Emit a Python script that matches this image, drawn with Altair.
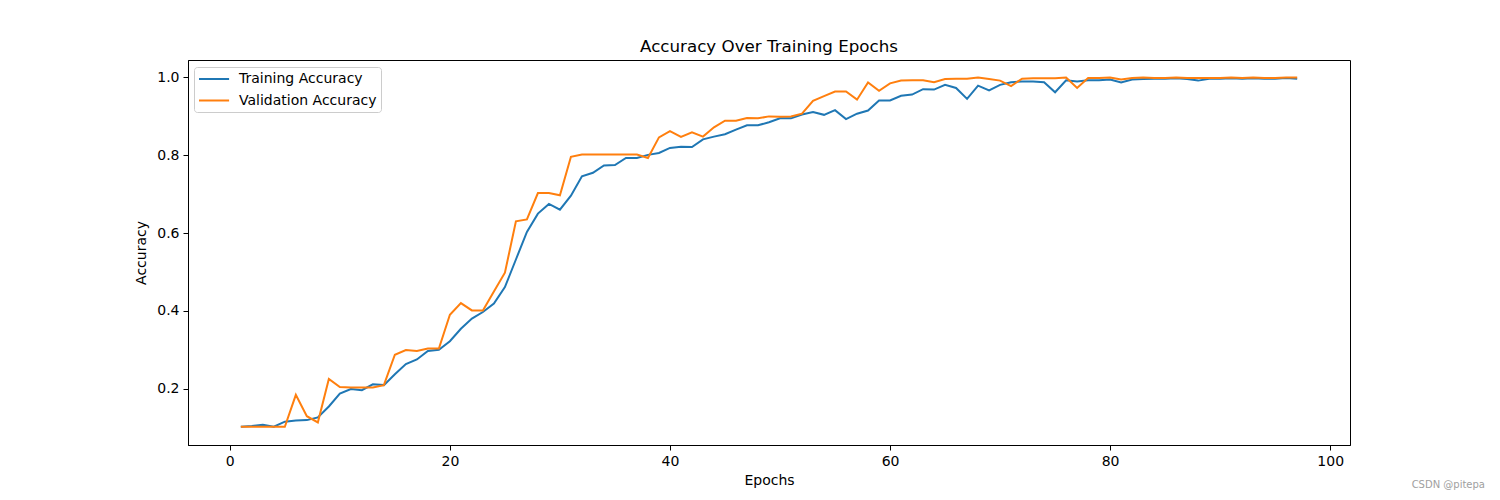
import altair as alt
import pandas as pd

epochs = list(range(1, 98))

train_acc = [
    0.102, 0.104, 0.107, 0.102, 0.115, 0.118, 0.119, 0.126, 0.154, 0.187,
    0.199, 0.196, 0.211, 0.209, 0.237, 0.263, 0.275, 0.297, 0.300, 0.322,
    0.354, 0.380, 0.397, 0.419, 0.461, 0.532, 0.603, 0.650, 0.675, 0.660,
    0.696, 0.746, 0.755, 0.774, 0.775, 0.793, 0.793, 0.801, 0.806, 0.819,
    0.822, 0.821, 0.841, 0.848, 0.854, 0.866, 0.877, 0.877, 0.885, 0.895,
    0.895, 0.905, 0.911, 0.904, 0.916, 0.893, 0.907, 0.915, 0.941, 0.941,
    0.953, 0.956, 0.970, 0.969, 0.981, 0.973, 0.945, 0.979, 0.967, 0.981,
    0.988, 0.990, 0.990, 0.988, 0.962, 0.993, 0.990, 0.993, 0.993, 0.995,
    0.987, 0.995, 0.996, 0.997, 0.997, 0.998, 0.996, 0.992, 0.997, 0.997,
    0.998, 0.997, 0.998, 0.997, 0.997, 0.999, 0.997,
]

val_acc = [
    0.102, 0.102, 0.102, 0.102, 0.102, 0.184, 0.129, 0.113, 0.225, 0.204,
    0.203, 0.203, 0.203, 0.209, 0.287, 0.299, 0.297, 0.303, 0.303, 0.390,
    0.420, 0.401, 0.401, 0.450, 0.498, 0.630, 0.635, 0.703, 0.703, 0.697,
    0.796, 0.802, 0.802, 0.802, 0.802, 0.802, 0.802, 0.793, 0.846, 0.862,
    0.847, 0.859, 0.848, 0.872, 0.889, 0.889, 0.896, 0.895, 0.900, 0.899,
    0.900, 0.907, 0.940, 0.952, 0.964, 0.964, 0.943, 0.987, 0.966, 0.985,
    0.992, 0.993, 0.993, 0.988, 0.996, 0.997, 0.997, 1.000, 0.996, 0.992,
    0.978, 0.997, 0.998, 0.998, 0.998, 1.000, 0.973, 0.999, 0.999, 1.000,
    0.995, 0.999, 1.000, 0.999, 0.999, 1.000, 0.999, 0.999, 0.999, 0.999,
    1.000, 0.999, 1.000, 0.999, 0.999, 1.000, 1.000,
]

series_names = ["Training Accuracy", "Validation Accuracy"]
series_colors = ["#1f77b4", "#ff7f0e"]

x_ticks = [0, 20, 40, 60, 80, 100]
y_ticks = [0.2, 0.4, 0.6, 0.8, 1.0]

df = pd.concat([
    pd.DataFrame({"Epoch": epochs, "Accuracy": train_acc, "Series": series_names[0], "order": 0}),
    pd.DataFrame({"Epoch": epochs, "Accuracy": val_acc, "Series": series_names[1], "order": 1}),
])

FONT = "DejaVu Sans"

lines = alt.Chart(df).mark_line(strokeWidth=2, clip=True).encode(
    x=alt.X("Epoch:Q",
            scale=alt.Scale(domain=[-3.8, 101.8], nice=False, zero=False),
            axis=alt.Axis(title="Epochs", values=x_ticks, format="d", grid=False,
                          tickSize=5, labelPadding=4, titlePadding=5)),
    y=alt.Y("Accuracy:Q",
            scale=alt.Scale(domain=[0.055, 1.045], nice=False, zero=False),
            axis=alt.Axis(title="Accuracy", values=y_ticks, format=".1f", grid=False,
                          tickSize=5, labelPadding=4, titlePadding=8)),
    color=alt.Color("Series:N",
                    scale=alt.Scale(domain=series_names, range=series_colors),
                    legend=alt.Legend(title=None, orient="none", legendX=6, legendY=7,
                                      symbolType="M-1,0H3.3", symbolSize=196,
                                      symbolStrokeWidth=2, labelFontSize=14,
                                      labelFont=FONT, labelColor="black",
                                      labelOffset=25, rowPadding=6.5,
                                      padding=4, strokeColor="#cccccc",
                                      fillColor="white", cornerRadius=3)),
    order="order:Q",
    detail="Series:N",
)

watermark_df = pd.DataFrame({"label": ["CSDN @pitepa"]})
watermark = alt.Chart(watermark_df).mark_text(
    align="right", baseline="middle", fontSize=10, font=FONT, color="#a0a0a0"
).encode(
    x=alt.value(1297),
    y=alt.value(425),
    text="label:N",
)

chart = alt.layer(lines, watermark).properties(
    width=1162,
    height=385,
    background="white",
    title=alt.TitleParams("Accuracy Over Training Epochs", fontSize=16.7, font=FONT,
                          fontWeight="normal", color="black", offset=4, anchor="middle"),
    autosize=alt.AutoSizeParams(type="none"),
    padding={"left": 180, "top": 52, "right": 142, "bottom": 47},
).configure_view(
    stroke="black", strokeWidth=1
).configure_axis(
    labelFont=FONT, titleFont=FONT, labelFontSize=14, titleFontSize=14,
    labelColor="black", titleColor="black", domainColor="black", tickColor="black",
    titleFontWeight="normal",
)

chart.save("out.html", embed_options={"renderer": "svg", "actions": False})
